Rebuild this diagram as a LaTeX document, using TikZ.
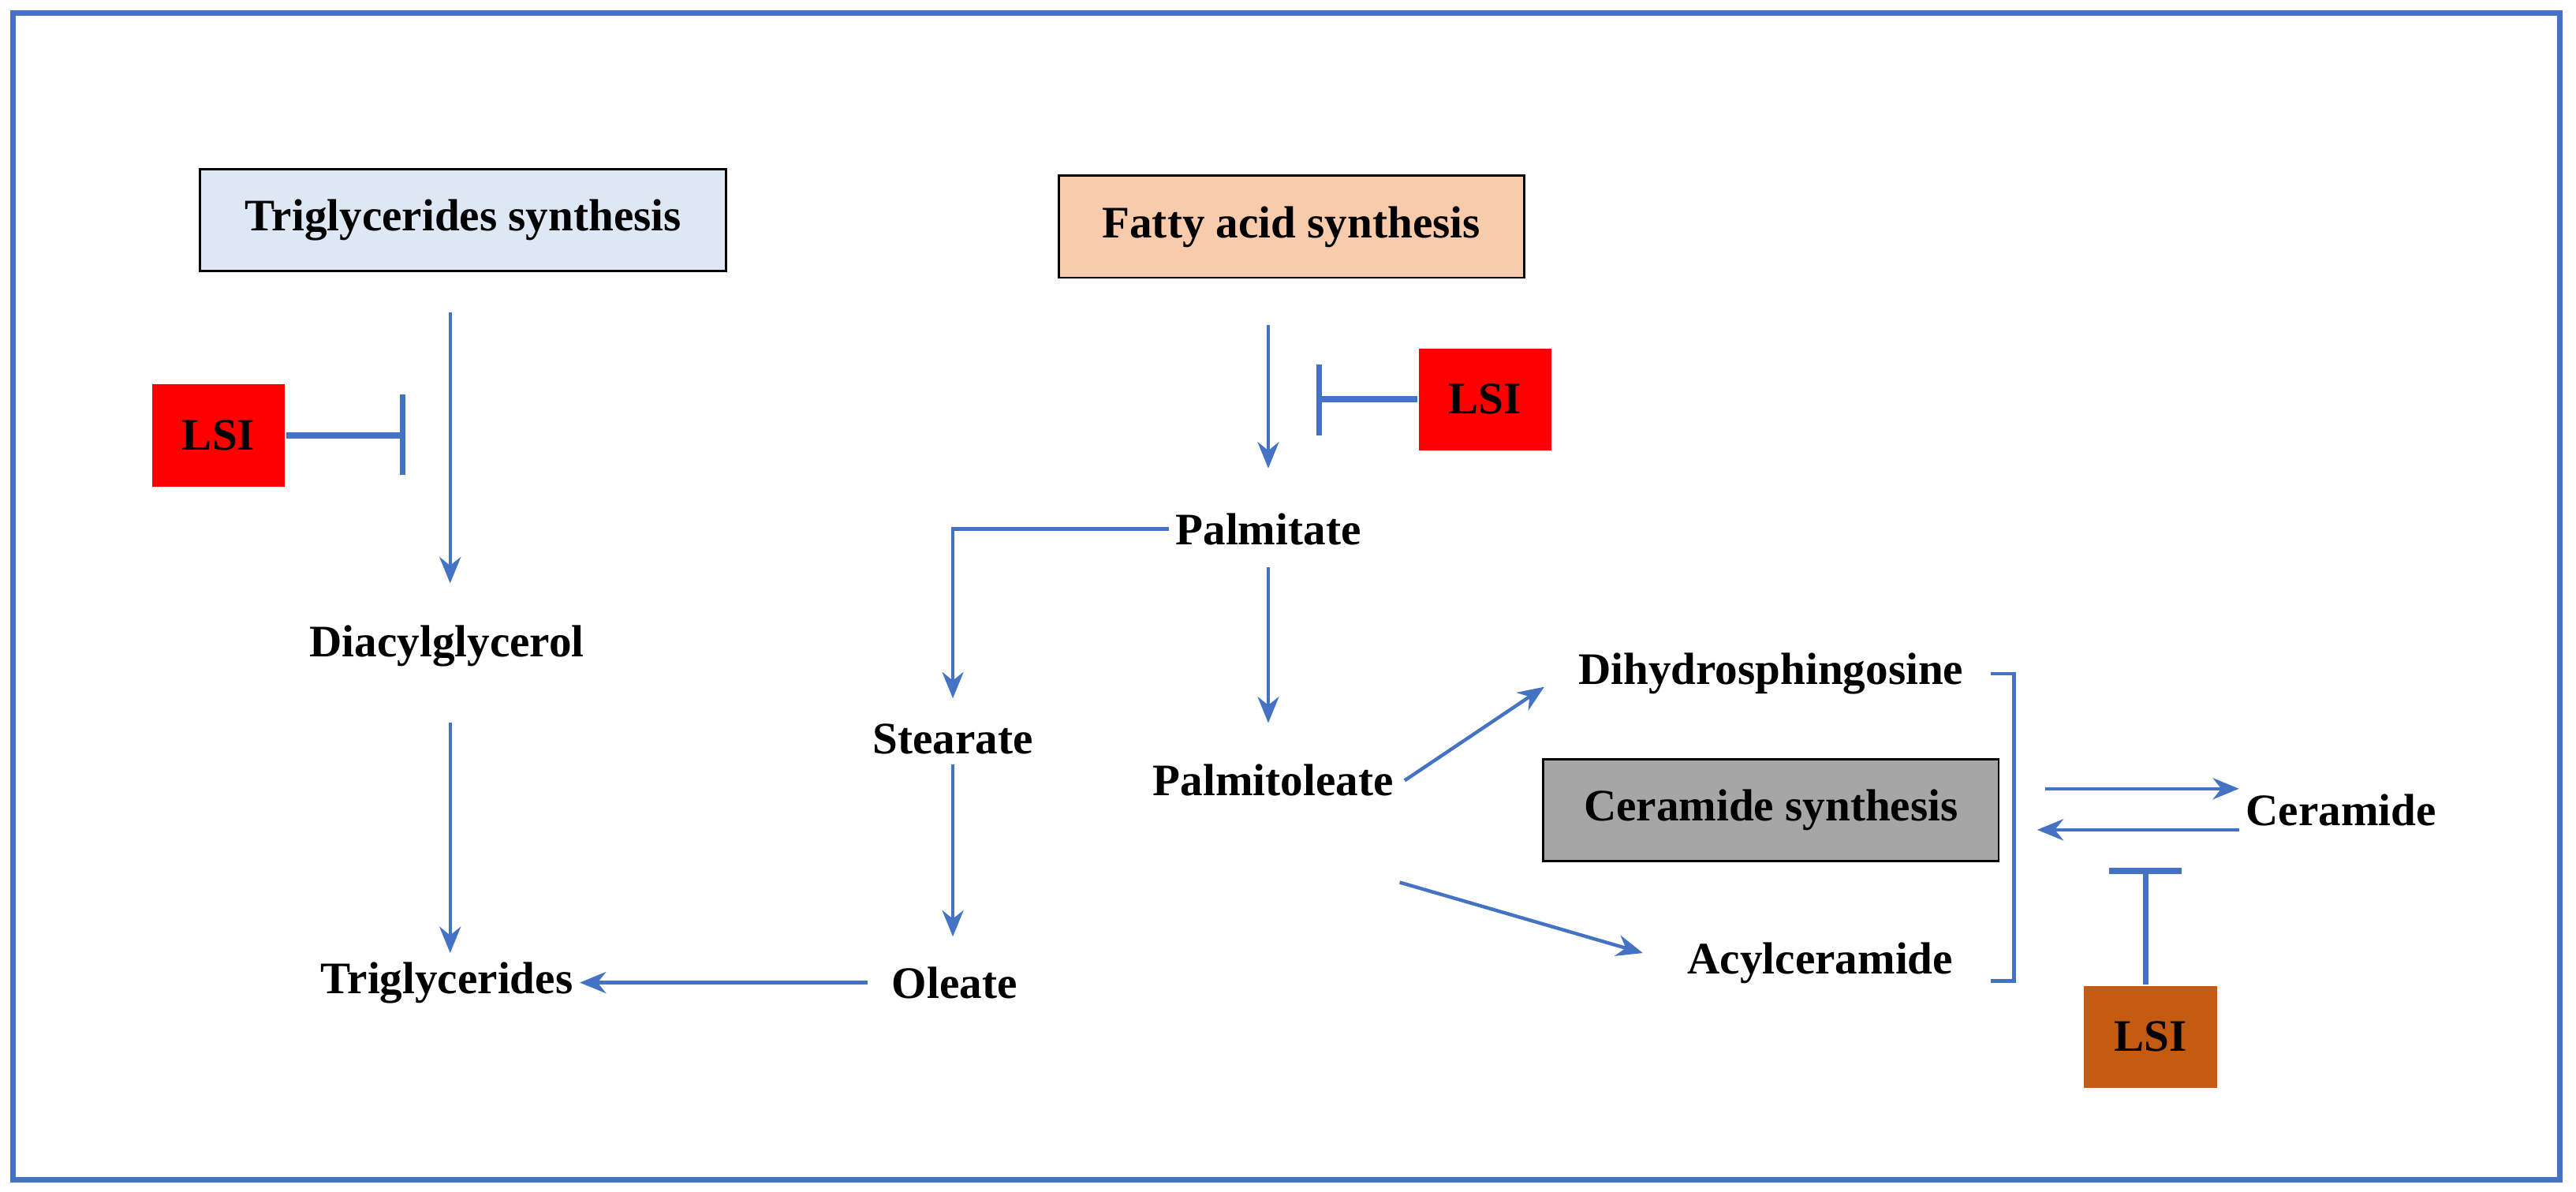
\documentclass[tikz,border=0pt]{standalone}
\usepackage{fontspec}
\setmainfont{Liberation Serif}
\usetikzlibrary{arrows.meta,positioning}
\definecolor{lineblue}{HTML}{4472C4}
\tikzset{lbl/.style={font=\fontsize{7.8}{9.5}\selectfont\bfseries,inner sep=1pt}}
\tikzset{pbox/.style={lbl,draw,minimum height=0.62cm,inner xsep=5pt}}
\tikzset{lsi/.style={lbl,minimum width=0.81cm,minimum height=0.62cm}}
\tikzset{flow/.style={draw=lineblue,line width=0.6pt,-{Stealth[length=1.6mm,width=1.3mm]}}}
\tikzset{inhib/.style={draw=lineblue,line width=1pt}}
\begin{document}
\begin{tikzpicture}[x=0.01cm,y=-0.01cm]
    \useasboundingbox (0,0) rectangle (1568,725);
    \draw[lineblue,line width=1pt] (8,8) rectangle (1558,718);

    \node[pbox,fill={rgb,255:red,222;green,231;blue,244},minimum width=3.2cm] (tgs) at (282,134) {Triglycerides synthesis};
    \node[pbox,fill={rgb,255:red,248;green,203;blue,173},minimum width=2.83cm] (fas) at (786,138) {Fatty acid synthesis};
    \node[pbox,fill={rgb,255:red,166;green,166;blue,166},minimum width=2.77cm] (cer) at (1078,493) {Ceramide synthesis};

    \node[lsi,fill=red] (lsia) at (133,265) {LSI};
    \node[lsi,fill=red] (lsib) at (904,243) {LSI};
    \node[lsi,fill={rgb,255:red,197;green,90;blue,17}] (lsic) at (1309,631) {LSI};

    \node[lbl] (dag) at (272,393) {Diacylglycerol};
    \node[lbl] (tg) at (272,598) {Triglycerides};
    \node[lbl] (pal) at (772,322) {Palmitate};
    \node[lbl] (ste) at (580,450) {Stearate};
    \node[lbl] (ole) at (581,598) {Oleate};
    \node[lbl] (pol) at (775,475) {Palmitoleate};
    \node[lbl] (dhs) at (1078,410) {Dihydrosphingosine};
    \node[lbl] (acy) at (1108,586) {Acylceramide};
    \node[lbl] (cera) at (1425,493) {Ceramide};

    % arrow ends
    \coordinate (tgsout) at (274,190);
    \coordinate (dagin) at (274,355);
    \coordinate (dagout) at (274,440);
    \coordinate (tgin) at (274,580);
    \coordinate (fasout) at (772,198);
    \coordinate (palin) at (772,285);
    \coordinate (palout) at (772,345);
    \coordinate (polin) at (772,440);
    \coordinate (turn) at (580,322);
    \coordinate (stein) at (580,425);
    \coordinate (steout) at (580,465);
    \coordinate (olein) at (580,570);
    \coordinate (brtop) at (1226,410);
    \coordinate (brbot) at (1226,597);
    % inhibition bars
    \coordinate (bara1) at (245,240); \coordinate (bara2) at (245,289);
    \coordinate (barb1) at (803,222); \coordinate (barb2) at (803,265);
    \coordinate (barc1) at (1284,530); \coordinate (barc2) at (1328,530);

        \draw[flow] (tgsout) -- (dagin);
        \draw[flow] (dagout) -- (tgin);
        \draw[flow] (528,598) -- (tg.east);
        \draw[flow] (fasout) -- (palin);
        \draw[flow] (pal.west) -- (turn) -- (stein);
        \draw[flow] (steout) -- (olein);
        \draw[flow] (palout) -- (polin);
        \draw[flow] (855,475) -- (940,418);
        \draw[flow] (852,537) -- (1000,580);
        \draw[flow] (1245,480) -- (cera.west |- 0,480);
        \draw[flow] (cera.west |- 0,505) -- (1240,505);
        \draw[lineblue,line width=0.6pt] (1212,410) -- (brtop) -- (brbot) -- (1212,597);

        \draw[inhib] (lsia.east) -- (bara1 |- lsia);
        \draw[inhib] (bara1) -- (bara2);
        \draw[inhib] (lsib.west) -- (barb1 |- lsib);
        \draw[inhib] (barb1) -- (barb2);
        \draw[inhib] (lsic.north -| 1306,0) -- (1306,530);
        \draw[inhib] (barc1) -- (barc2);
\end{tikzpicture}
\end{document}
